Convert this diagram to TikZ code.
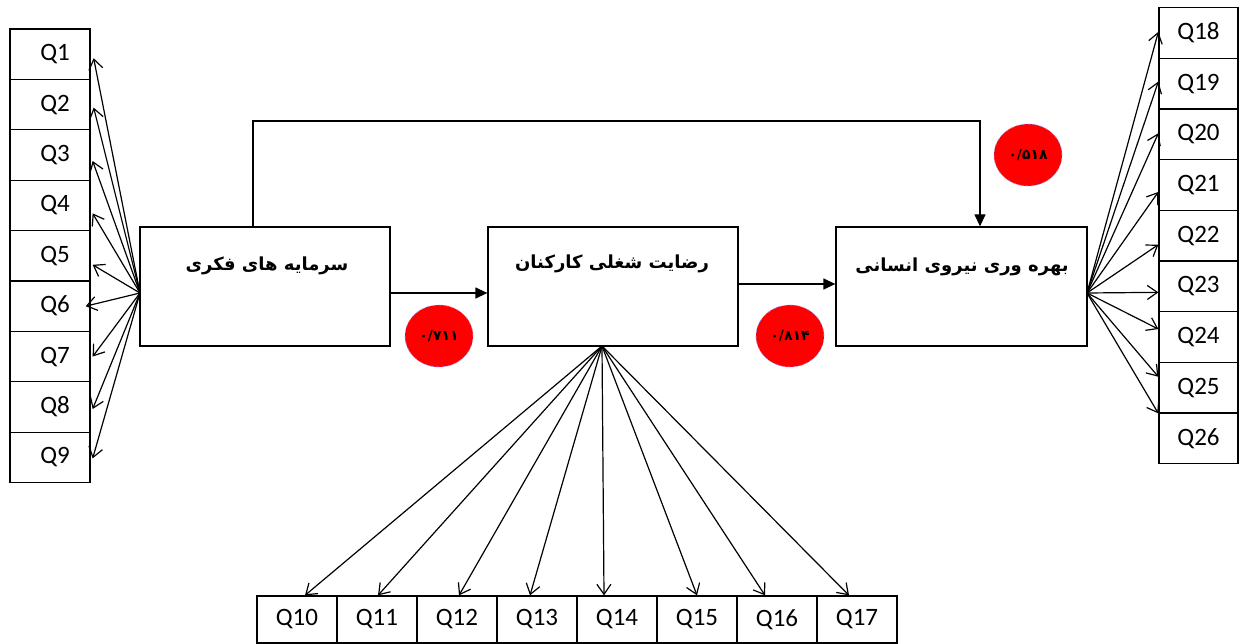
\documentclass[tikz,border=0pt]{standalone}
\usepackage{fontspec}
\setmainfont{Carlito}
\newfontfamily\arabicfont[Script=Arabic]{DejaVu Sans}
\TeXXeTstate=1
\usetikzlibrary{arrows.meta,calc,shapes.geometric}
\begin{document}
\begin{tikzpicture}[x=1pt,y=-1pt,
  qbox/.style={draw,line width=1.3pt,minimum width=80pt,minimum height=50.4pt,inner sep=0pt,font=\fontsize{25}{27}\selectfont},
  qboxb/.style={draw,line width=1.3pt,minimum width=80pt,minimum height=47pt,inner sep=0pt,font=\fontsize{25}{27}\selectfont},
  mainbox/.style={draw,line width=1.3pt,minimum width=250pt,minimum height=119pt,inner sep=0pt},
  ptext/.style={font=\arabicfont\bfseries\fontsize{18}{20}\selectfont,inner sep=0pt},
  coef/.style={ellipse,fill=red,draw=blue!40,dashed,line width=0.6pt,minimum width=68pt,minimum height=62pt,inner sep=0pt,font=\arabicfont\bfseries\fontsize{14}{16}\selectfont},
  load/.style={line width=1.2pt,-{Straight Barb[length=10pt,width=14pt,line width=1.2pt]}},
  path/.style={line width=1.3pt,-{Triangle[length=12pt,width=11pt]}}
]
\useasboundingbox (0,0) rectangle (1239,644);
% main boxes
\node[mainbox] (A) at (265,286.5) {};
\node[mainbox] (B) at (613,286.5) {};
\node[mainbox,minimum width=251pt] (C) at (961.5,286.5) {};
\node[ptext] (At) at (267,266) {\beginR سرمایه های فکری\endR};
\node[ptext] (Bt) at (612,264) {\beginR رضایت شغلی کارکنان\endR};
\node[ptext] (Ct) at (962,267) {\beginR بهره وری نیروی انسانی\endR};
% left items
\foreach \i in {1,...,9}{
  \node[qbox,text width=80pt,align=center] (q\i) at (50,{29+25.2+50.4*(\i-1)}) {\hspace*{10pt}Q\i};
}
% right items
\foreach \i [evaluate=\i as \k using int(\i+17)] in {1,...,9}{
  \node[qbox,minimum width=79pt,minimum height=50.7pt] (q\k) at (1198.5,{7.5+25.35+50.7*(\i-1)}) {Q\k};
}
% bottom items
\foreach \i [evaluate=\i as \k using int(\i+9)] in {1,...,8}{
  \node[qboxb] (q\k) at ({297+80*(\i-1)},619.5) {Q\k};
}
% sources
\coordinate (As) at (140,293);
\coordinate (Cs) at (1087,293);
\coordinate (Bs) at (602,346);
% left loadings
\draw[load] (As) -- ([shift={(3,4)}]q1.east);
\draw[load] (As) -- ([shift={(3,3)}]q2.east);
\draw[load] (As) -- ([shift={(2,6)}]q3.east);
\draw[load] (As) -- ([shift={(2,8)}]q4.east);
\draw[load] (As) -- ([shift={(2,9)}]q5.east);
\draw[load] (As) -- ([shift={(-5,0)}]q6.east);
\draw[load] (As) -- ([shift={(2,0)}]q7.east);
\draw[load] (As) -- ([shift={(2,2)}]q8.east);
\draw[load] (As) -- ([shift={(2,1)}]q9.east);
% right loadings
\draw[load] (Cs) -- ([shift={(0,-1)}]q18.west);
\draw[load] (Cs) -- ([shift={(0,-2)}]q19.west);
\draw[load] (Cs) -- ([shift={(0,-1)}]q20.west);
\draw[load] (Cs) -- ([shift={(0,7)}]q21.west);
\draw[load] (Cs) -- ([shift={(0,9)}]q22.west);
\draw[load] (Cs) -- ([shift={(0,6)}]q23.west);
\draw[load] (Cs) -- ([shift={(0,-8)}]q24.west);
\draw[load] (Cs) -- ([shift={(0,-11)}]q25.west);
\draw[load] (Cs) -- ([shift={(0,-25)}]q26.west);
% bottom loadings
\draw[load] (Bs) -- ([xshift=8pt]q10.north);
\draw[load] (Bs) -- ([xshift=1pt]q11.north);
\draw[load] (Bs) -- ([xshift=2pt]q12.north);
\draw[load] (Bs) -- ([xshift=-7pt]q13.north);
\draw[load] (Bs) -- ([xshift=-13pt]q14.north);
\draw[load] (Bs) -- ([xshift=0pt]q15.north);
\draw[load] (Bs) -- ([xshift=-12pt]q16.north);
\draw[load] (Bs) -- ([xshift=-8pt]q17.north);
% structural paths
\draw[path] (A.east |- 0,293) -- (B.west |- 0,293);
\draw[path] (B.east |- 0,284) -- (C.west |- 0,284);
\draw[path] (A.north -| 253,0) |- (980,121) -- (C.north -| 980,0);
% coefficients
\node[coef] (c1) at (439,336) {۰/۷۱۱};
\node[coef] (c2) at (790,336) {۰/۸۱۴};
\node[coef] (c3) at (1028,155) {۰/۵۱۸};
\end{tikzpicture}
\end{document}
